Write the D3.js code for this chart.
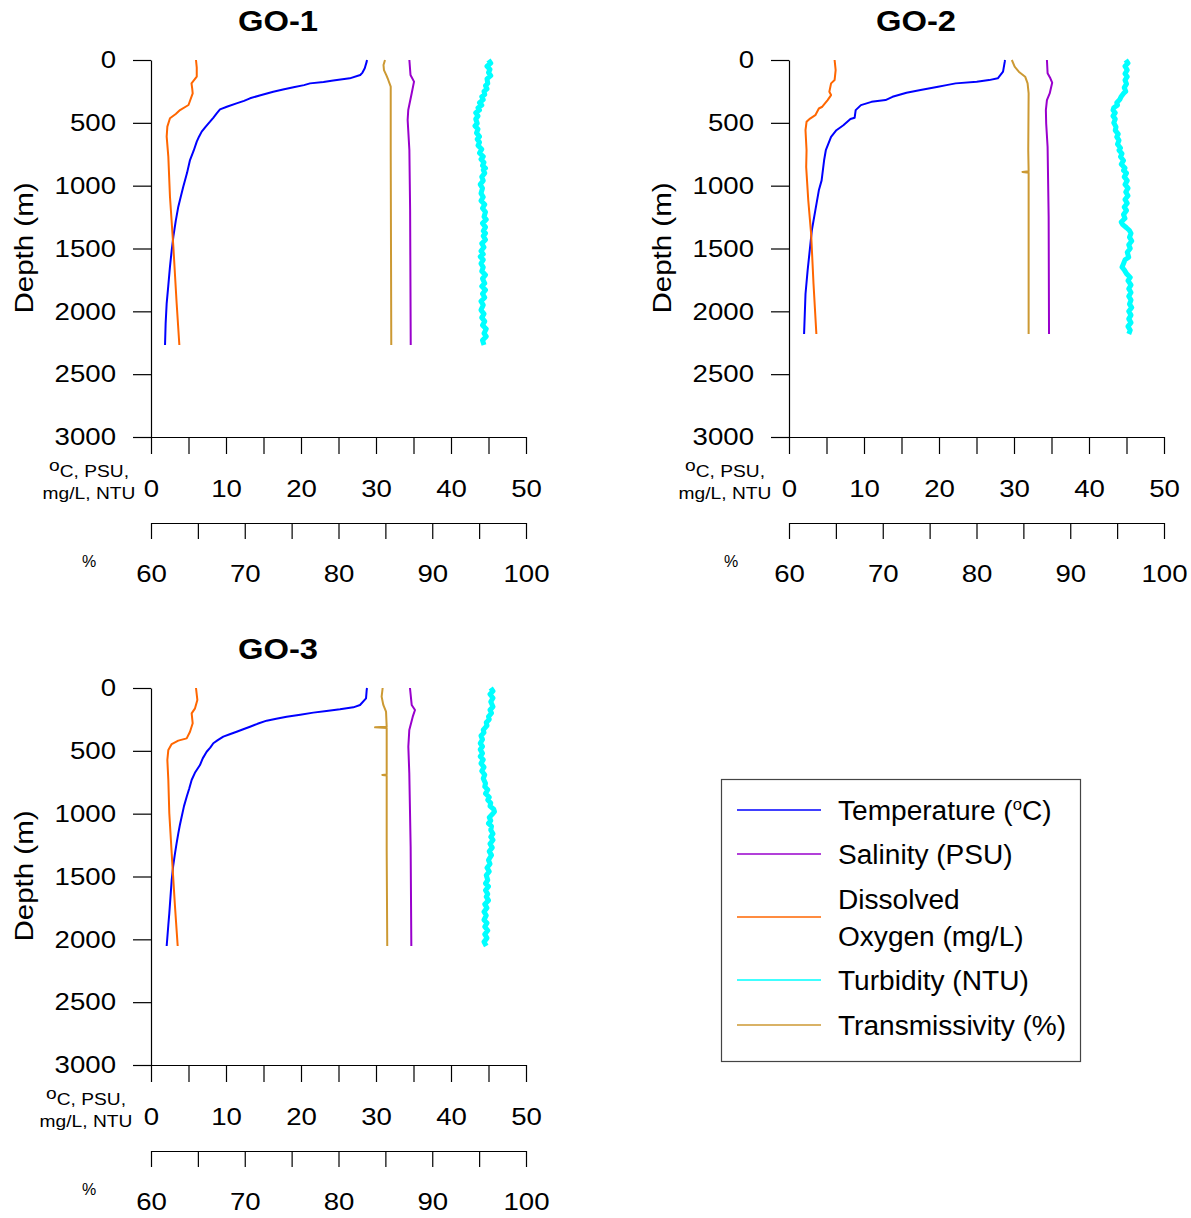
<!DOCTYPE html>
<html>
<head>
<meta charset="utf-8">
<script src="https://cdn.jsdelivr.net/npm/d3@7"></script>
<style>
  body { margin: 0; background: #fff; }
  svg { display: block; }
  text { font-family: "Liberation Sans", Arial, sans-serif; fill: #000; }
</style>
</head>
<body>
<svg id="chart" width="1191" height="1218"></svg>
<script>
// ---------------- DATA (depth m, value) ----------------
const stations = ["GO-1", "GO-2", "GO-3"];
const depthTicks = [0, 500, 1000, 1500, 2000, 2500, 3000];
const unitTicks = [0, 5, 10, 15, 20, 25, 30, 35, 40, 45, 50];
const unitLabels = [0, 10, 20, 30, 40, 50];
const percentTicks = [60, 65, 70, 75, 80, 85, 90, 95, 100];
const percentLabels = [60, 70, 80, 90, 100];
const seriesNames = ["Temperature (°C)", "Salinity (PSU)", "Dissolved Oxygen (mg/L)", "Turbidity (NTU)", "Transmissivity (%)"];

// GO-1
const go1Temperature = [[0,28.8],[13,28.76],[66,28.5],[100,28.2],[119,27.9],[146,26.5],[164,24.3],[175,23.0],[186,21.2],[200,20.4],[217,19.0],[235,17.6],[252,16.3],[280,14.6],[305,13.2],[325,12.4],[345,11.4],[370,10.2],[393,9.2],[424,8.76],[460,8.3],[491,7.87],[530,7.3],[570,6.76],[610,6.4],[650,6.1],[720,5.7],[796,5.2],[900,4.8],[1008,4.3],[1080,4.0],[1167,3.64],[1280,3.3],[1406,2.98],[1520,2.75],[1645,2.53],[1800,2.3],[1936,2.09],[2100,1.95],[2268,1.87]];
const go1Salinity = [[0,34.45],[119,34.6],[172,35.07],[265,34.76],[398,34.3],[477,34.22],[716,34.45],[1200,34.55],[2268,34.63]];
const go1Oxygen = [[0,6.0],[60,6.1],[133,6.1],[186,5.4],[230,5.5],[265,5.56],[358,5.0],[398,3.87],[430,3.3],[464,2.53],[530,2.18],[610,2.09],[769,2.31],[1088,2.53],[1486,2.98],[1936,3.42],[2268,3.78]];
const go1Turbidity = [[0,45.0],[25,45.3],[50,44.8],[75,45.2],[100,45.0],[125,45.3],[150,44.8],[186,44.9],[205,44.6],[230,44.8],[250,44.4],[275,44.5],[292,44.1],[315,44.3],[340,43.8],[360,44.1],[380,43.6],[398,43.8],[420,43.3],[445,43.6],[470,43.3],[504,43.5],[525,43.2],[550,43.6],[580,43.4],[610,43.8],[630,43.5],[655,43.8],[680,43.6],[710,44.1],[740,43.8],[769,44.3],[790,44.0],[815,44.4],[840,44.2],[860,44.6],[875,44.3],[900,44.5],[930,44.1],[960,44.3],[990,43.9],[1020,44.2],[1061,44.0],[1090,44.3],[1120,44.0],[1150,44.5],[1180,44.2],[1210,44.6],[1247,44.4],[1270,44.7],[1300,44.2],[1330,44.6],[1360,44.3],[1379,44.6],[1400,44.3],[1430,44.6],[1460,44.1],[1490,44.4],[1520,44.0],[1545,44.3],[1565,43.9],[1590,44.3],[1620,44.0],[1650,44.3],[1680,44.1],[1710,44.6],[1740,44.2],[1777,44.5],[1800,44.1],[1830,44.6],[1860,44.2],[1890,44.5],[1920,44.0],[1950,44.3],[1990,44.0],[2020,44.4],[2050,44.1],[2080,44.5],[2110,44.2],[2140,44.7],[2175,44.4],[2200,44.7],[2230,44.2],[2268,44.4]];
const go1Transmissivity = [[0,84.96],[40,84.8],[80,84.85],[120,85.1],[159,85.31],[212,85.57],[716,85.57],[2268,85.63]];

// GO-2
const go2Temperature = [[0,28.8],[13,28.77],[93,28.54],[146,27.84],[160,26.67],[173,25.03],[186,22.22],[200,21.0],[213,19.88],[239,17.54],[261,15.67],[293,13.8],[319,12.87],[333,11.0],[359,9.59],[399,8.89],[460,8.75],[470,8.19],[519,7.25],[559,6.32],[612,5.61],[718,4.91],[798,4.68],[958,4.35],[1037,3.98],[1197,3.51],[1357,3.04],[1569,2.67],[1676,2.48],[1862,2.2],[2180,2.01]];
const go2Salinity = [[0,34.39],[106,34.48],[146,34.85],[181,35.09],[266,34.76],[319,34.39],[399,34.25],[505,34.29],[692,34.48],[1250,34.62],[2180,34.67]];
const go2Oxygen = [[0,6.08],[80,6.22],[160,6.08],[186,5.61],[253,5.38],[279,5.61],[319,5.15],[372,4.44],[386,3.98],[439,3.51],[466,2.81],[492,2.34],[559,2.2],[718,2.34],[851,2.29],[1117,2.57],[1383,2.95],[1782,3.27],[2180,3.65]];
const go2Turbidity = [[0,44.9],[25,45.2],[50,44.8],[80,45.1],[110,44.8],[133,45.1],[160,44.8],[190,45.0],[220,44.7],[250,44.9],[266,44.6],[290,44.3],[315,44.1],[340,43.7],[359,43.8],[380,43.3],[399,43.2],[420,43.5],[445,43.2],[470,43.5],[500,43.3],[532,43.6],[560,43.5],[590,43.9],[612,43.7],[640,44.0],[670,43.8],[700,44.2],[718,44.0],[745,44.4],[770,44.2],[800,44.6],[830,44.3],[860,44.8],[878,44.6],[900,45.0],[930,44.7],[960,45.1],[990,44.8],[1020,45.2],[1050,44.9],[1080,45.2],[1110,44.8],[1140,45.1],[1170,44.7],[1197,45.0],[1230,44.6],[1260,44.8],[1290,44.3],[1310,44.5],[1335,45.0],[1357,45.4],[1380,45.6],[1410,45.4],[1440,45.7],[1470,45.3],[1500,45.5],[1530,45.1],[1569,45.3],[1590,44.8],[1620,44.6],[1649,44.4],[1670,44.7],[1700,45.0],[1730,45.5],[1756,45.2],[1790,45.6],[1820,45.3],[1850,45.6],[1880,45.3],[1910,45.6],[1942,45.4],[1970,45.7],[2000,45.3],[2030,45.6],[2060,45.3],[2090,45.6],[2120,45.2],[2150,45.5],[2180,45.3]];
const go2Transmissivity = [[0,83.77],[53,84.07],[93,84.51],[133,85.19],[186,85.45],[266,85.56],[718,85.52],[885,85.56],[891,84.9],[897,85.56],[1516,85.56],[2180,85.56]];

// GO-3
const go3Temperature = [[0,28.8],[16,28.76],[82,28.67],[135,27.87],[154,26.98],[170,25.2],[183,23.4],[196,21.64],[212,19.9],[228,18.09],[245,16.7],[260,15.42],[285,14.2],[308,13.2],[328,12.3],[348,11.42],[368,10.5],[387,9.64],[415,8.9],[440,8.31],[475,7.9],[507,7.42],[560,6.9],[613,6.53],[670,5.9],[732,5.42],[800,5.1],[865,4.76],[940,4.4],[1024,4.09],[1090,3.85],[1157,3.64],[1240,3.4],[1316,3.2],[1420,2.95],[1528,2.76],[1660,2.6],[1793,2.44],[1886,2.31],[2053,2.09]];
const go3Salinity = [[0,34.53],[135,34.76],[175,35.2],[228,34.9],[334,34.44],[467,34.31],[679,34.44],[1263,34.62],[2053,34.71]];
const go3Oxygen = [[0,6.0],[95,6.18],[162,5.87],[202,5.42],[281,5.56],[348,5.2],[401,4.76],[419,3.64],[446,2.76],[493,2.31],[573,2.18],[732,2.31],[997,2.44],[1316,2.76],[1740,3.2],[2053,3.56]];
const go3Turbidity = [[0,45.3],[25,45.6],[50,45.2],[80,45.6],[110,45.3],[149,45.6],[175,45.2],[200,45.4],[228,45.0],[250,45.1],[275,44.7],[300,44.8],[334,44.3],[355,44.4],[380,44.0],[410,44.2],[440,43.9],[465,44.2],[490,43.9],[520,44.2],[545,43.9],[570,44.3],[600,44.0],[630,44.4],[660,44.1],[690,44.5],[720,44.3],[759,44.6],[785,44.5],[810,44.9],[840,44.6],[870,45.1],[891,44.9],[915,45.3],[940,45.2],[965,45.7],[984,45.8],[1005,45.5],[1030,45.1],[1055,45.3],[1077,45.0],[1100,45.4],[1130,45.3],[1160,45.6],[1185,45.3],[1210,45.6],[1240,45.2],[1270,45.5],[1300,45.1],[1330,45.4],[1369,45.0],[1400,45.2],[1430,44.8],[1460,45.1],[1490,44.7],[1528,44.9],[1555,44.6],[1580,45.0],[1610,44.6],[1640,44.9],[1661,44.7],[1690,45.0],[1720,44.5],[1750,44.8],[1780,44.4],[1810,44.7],[1846,44.4],[1870,44.8],[1900,44.5],[1930,44.9],[1960,44.5],[1990,44.8],[2020,44.4],[2053,44.7]];
const go3Transmissivity = [[0,84.71],[69,84.6],[135,84.78],[188,85.07],[308,85.14],[313,83.9],[318,85.14],[688,85.14],[692,84.67],[696,85.14],[1289,85.14],[2053,85.2]];

// ---------------- LAYOUT ----------------
const colors = { temp: "#0000ff", sal: "#9900cc", oxy: "#ff6600", turb: "#00ffff", trans: "#cc9933" };
const panels = [
  { title: stations[0], dx: 0,   dy: 0,   unitX: 89, pctX: 89,
    temp: go1Temperature, sal: go1Salinity, oxy: go1Oxygen, turb: go1Turbidity, trans: go1Transmissivity },
  { title: stations[1], dx: 638, dy: 0,   unitX: 87, pctX: 93,
    temp: go2Temperature, sal: go2Salinity, oxy: go2Oxygen, turb: go2Turbidity, trans: go2Transmissivity },
  { title: stations[2], dx: 0,   dy: 628, unitX: 86, pctX: 89,
    temp: go3Temperature, sal: go3Salinity, oxy: go3Oxygen, turb: go3Turbidity, trans: go3Transmissivity }
];

const svg = d3.select("#chart");
const y = d3.scaleLinear().domain([0, 3000]).range([60, 437]);
const x = d3.scaleLinear().domain([0, 50]).range([151, 526]);
const xp = d3.scaleLinear().domain([60, 100]).range([151, 526]);

const FS = 24;
const SX = 1.15;   // horizontal stretch of the original lettering

panels.forEach(p => {
  const g = svg.append("g").attr("transform", `translate(${p.dx},${p.dy})`);

  g.append("text").attr("transform", `translate(278,31) scale(1.13,1)`).attr("text-anchor", "middle")
    .attr("font-size", 29).attr("font-weight", "bold").text(p.title);

  // y axis
  const ya = g.append("g").attr("transform", "translate(151,0)")
    .call(d3.axisLeft(y).tickValues(depthTicks).tickSize(18).tickSizeOuter(0).tickPadding(17)
      .tickFormat(d3.format("d")));
  // x primary axis
  const xa = g.append("g").attr("transform", "translate(0,437)")
    .call(d3.axisBottom(x).tickValues(unitTicks).tickSize(17).tickSizeOuter(0).tickPadding(26)
      .tickFormat(d => unitLabels.includes(d) ? d3.format("d")(d) : ""));
  // x percent axis
  const pa = g.append("g").attr("transform", "translate(0,523)")
    .call(d3.axisBottom(xp).tickValues(percentTicks).tickSize(16).tickSizeOuter(0).tickPadding(26)
      .tickFormat(d => percentLabels.includes(d) ? d3.format("d")(d) : ""));
  [ya, xa, pa].forEach(a => {
    a.selectAll("path.domain").attr("stroke", "#000").attr("stroke-width", 1.2);
    a.selectAll(".tick line").attr("stroke", "#000").attr("stroke-width", 1.2);
    a.selectAll(".tick text").attr("font-size", FS).attr("font-family", "Liberation Sans, Arial, sans-serif")
      .attr("fill", "#000").attr("transform", `scale(${SX},1)`);
  });
  ya.selectAll(".tick text").attr("x", -35 / SX);

  // axis titles
  g.append("text").attr("transform", "translate(33,248) rotate(-90) scale(1.18,1)")
    .attr("text-anchor", "middle").attr("font-size", 25).text("Depth (m)");
  const u1 = g.append("text").attr("transform", `translate(${p.unitX},477) scale(1.13,1)`)
    .attr("text-anchor", "middle").attr("font-size", 17);
  u1.append("tspan").attr("dy", -6).text("o");
  u1.append("tspan").attr("dy", 6).text("C, PSU,");
  g.append("text").attr("transform", `translate(${p.unitX},499) scale(1.13,1)`)
    .attr("text-anchor", "middle").attr("font-size", 17).text("mg/L, NTU");
  g.append("text").attr("x", p.pctX).attr("y", 567).attr("text-anchor", "middle").attr("font-size", 16).text("%");

  // series
  const lineU = d3.line().x(d => x(d[1])).y(d => y(d[0]));
  const lineP = d3.line().x(d => xp(d[1])).y(d => y(d[0]));
  const plot = g.append("g").attr("fill", "none").attr("stroke-linejoin", "round");
  plot.append("path").attr("d", lineU(p.temp)).attr("stroke", colors.temp).attr("stroke-width", 2);
  plot.append("path").attr("d", lineU(p.sal)).attr("stroke", colors.sal).attr("stroke-width", 2);
  plot.append("path").attr("d", lineU(p.oxy)).attr("stroke", colors.oxy).attr("stroke-width", 2);
  plot.append("path").attr("d", lineU(p.turb)).attr("stroke", colors.turb).attr("stroke-width", 5);
  plot.append("path").attr("d", lineP(p.trans)).attr("stroke", colors.trans).attr("stroke-width", 2);
});

// ---------------- LEGEND ----------------
const lg = svg.append("g");
lg.append("rect").attr("x", 721.5).attr("y", 779.5).attr("width", 359).attr("height", 282)
  .attr("fill", "#fff").attr("stroke", "#444").attr("stroke-width", 1.2);
const legendRows = [
  { key: "temp", lines: ["Temperature (", "C)"], sup: true, ly: 810 },
  { key: "sal", lines: [seriesNames[1]], ly: 854 },
  { key: "oxy", lines: ["Dissolved", "Oxygen (mg/L)"], ly: 917 },
  { key: "turb", lines: [seriesNames[3]], ly: 980 },
  { key: "trans", lines: [seriesNames[4]], ly: 1025 }
];
const LSX = 1.04;
legendRows.forEach(r => {
  lg.append("line").attr("x1", 737).attr("x2", 821).attr("y1", r.ly).attr("y2", r.ly)
    .attr("stroke", colors[r.key]).attr("stroke-width", 1.6);
  const fs = 27;
  if (r.sup) {
    const t = lg.append("text").attr("transform", `translate(838,${r.ly + 10}) scale(${LSX},1)`).attr("font-size", fs);
    t.append("tspan").text(r.lines[0]);
    t.append("tspan").attr("font-size", 16).attr("dy", -10).text("o");
    t.append("tspan").attr("dy", 10).text(r.lines[1]);
  } else if (r.lines.length === 2) {
    lg.append("text").attr("transform", `translate(838,${r.ly - 8}) scale(${LSX},1)`).attr("font-size", fs).text(r.lines[0]);
    lg.append("text").attr("transform", `translate(838,${r.ly + 29}) scale(${LSX},1)`).attr("font-size", fs).text(r.lines[1]);
  } else {
    lg.append("text").attr("transform", `translate(838,${r.ly + 10}) scale(${LSX},1)`).attr("font-size", fs).text(r.lines[0]);
  }
});
</script>
</body>
</html>
